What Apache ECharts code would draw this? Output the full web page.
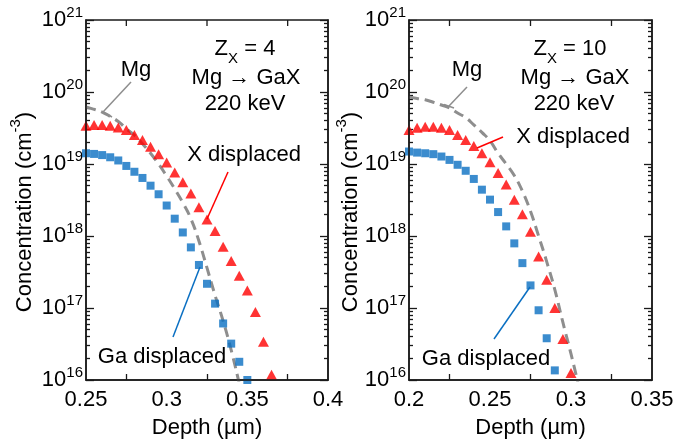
<!DOCTYPE html>
<html>
<head>
<meta charset="utf-8">
<script src="https://cdn.jsdelivr.net/npm/echarts@6/dist/echarts.min.js"></script>
<style>
  html, body { margin: 0; background: #fff; }
  #chart { width: 686px; height: 444px; }
</style>
</head>
<body>
<div id="chart"></div>
<script>
// depth grids (µm), one point every 5 nm
const depthL = [0.250, 0.255, 0.260, 0.265, 0.270, 0.275, 0.280, 0.285, 0.290, 0.295, 0.300, 0.305,
  0.310, 0.315, 0.320, 0.325, 0.330, 0.335, 0.340, 0.345, 0.350, 0.355, 0.360, 0.365];
const depthR = [0.200, 0.205, 0.210, 0.215, 0.220, 0.225, 0.230, 0.235, 0.240, 0.245, 0.250, 0.255,
  0.260, 0.265, 0.270, 0.275, 0.280, 0.285, 0.290, 0.295, 0.300, 0.305];

// Z_X = 4 panel (cm^-3)
const mgL = [6.2e19, 5.75e19, 5.25e19, 4.57e19, 3.89e19, 3.09e19, 2.51e19, 1.91e19, 1.41e19, 1.0e19,
  6.8e18, 4.5e18, 2.9e18, 1.74e18, 8.5e17, 3.6e17, 1.5e17, 6.6e16, 2.6e16, 8.9e15];
const xDispL = [3.39e19, 3.47e19, 3.47e19, 3.39e19, 3.22e19, 2.96e19, 2.52e19, 2.15e19, 1.74e19, 1.37e19,
  1.05e19, 7.6e18, 5.6e18, 3.9e18, 2.5e18, 1.7e18, 1.17e18, 7.1e17, 4.5e17, 2.8e17, 1.75e17, 8.8e16,
  3.4e16, 1.18e16];
const gaDispL = [1.41e19, 1.38e19, 1.33e19, 1.24e19, 1.12e19, 9.4e18, 7.8e18, 6.4e18, 5.0e18, 3.8e18,
  2.65e18, 1.74e18, 1.12e18, 6.95e17, 3.96e17, 2.17e17, 1.15e17, 6.1e16, 3.2e16, 1.79e16, 1.0e16];

// Z_X = 10 panel (cm^-3)
const mgR = [8.5e19, 8.1e19, 7.8e19, 7.2e19, 6.6e19, 6.0e19, 5.1e19, 4.4e19, 3.5e19, 2.75e19, 2.1e19,
  1.41e19, 1.0e19, 6.9e18, 4.2e18, 2.2e18, 1.0e18, 4.4e17, 1.8e17, 6.3e16, 2.3e16, 7.9e15];
const xDispR = [2.96e19, 3.18e19, 3.29e19, 3.29e19, 3.18e19, 2.96e19, 2.52e19, 2.15e19, 1.78e19, 1.41e19,
  1.06e19, 7.5e18, 5.2e18, 3.2e18, 2.0e18, 1.15e18, 5.2e17, 2.46e17, 1.0e17, 3.7e16, 1.25e16];
const gaDispR = [1.49e19, 1.44e19, 1.41e19, 1.37e19, 1.27e19, 1.14e19, 9.75e18, 8.05e18, 6.2e18, 4.4e18,
  3.2e18, 2.15e18, 1.36e18, 7.9e17, 4.2e17, 2.06e17, 9.3e16, 3.8e16, 1.36e16];

// the top decade sits a hair inside the extent so it is not filtered out
const decades = [1e16, 1e17, 1e18, 1e19, 1e20, 0.99999e21];
const xTicksL = [0.275, 0.325, 0.375];
const xTicksR = [0.225, 0.275, 0.325];

const FONT = 'Liberation Sans, Arial, sans-serif';
const RED = '#ff0000';
const BLUE = '#0a6fc2';
const GREY = '#8e8e8e';
const AXIS = '#1a1a1a';

let minors = [];
for (let n = 16; n < 21; n++) {
  for (let k = 2; k <= 9; k++) minors.push(k * Math.pow(10, n));
}

const pairs = (xs, ys) => ys.map((v, i) => [xs[i], v]);

const supRich = {
  b: { fontSize: 22, fontFamily: FONT, color: '#000', lineHeight: 30 },
  s: { fontSize: 15, fontFamily: FONT, color: '#000', verticalAlign: 'top' }
};

const makeY = (grid, pos, major) => ({
  type: 'log', logBase: 10, gridIndex: grid, position: pos, min: 1e16, max: 1e21,
  axisLine: { show: major, onZero: false, lineStyle: { color: AXIS, width: 1.5 } },
  axisTick: {
    inside: true, length: major ? 8 : 4, customValues: major ? decades : minors,
    lineStyle: { color: AXIS, width: 1.3 }
  },
  axisLabel: major && pos === 'left' ? {
    customValues: decades, margin: 3, showMaxLabel: true, showMinLabel: true,
    formatter: v => '{b|10}{s|' + Math.round(Math.log10(v)) + '}',
    rich: supRich
  } : { show: false },
  splitLine: { show: false }
});

const makeX = (grid, min, max, ticks) => ({
  type: 'value', gridIndex: grid, position: 'bottom', min: min, max: max, interval: 0.05,
  axisLine: { show: true, onZero: false, lineStyle: { color: AXIS, width: 1.5 } },
  axisTick: { inside: true, length: 6, customValues: ticks, lineStyle: { color: AXIS, width: 1.3 } },
  axisLabel: { fontSize: 22, fontFamily: FONT, color: '#000', margin: 9 },
  name: 'Depth (µm)', nameLocation: 'middle', nameGap: 37,
  nameTextStyle: { fontSize: 22, fontFamily: FONT, color: '#000' },
  splitLine: { show: false }
});

const mgSeries = (data, xi, yi) => ({
  type: 'line', xAxisIndex: xi, yAxisIndex: yi, data: data, smooth: true, symbol: 'none',
  lineStyle: { color: GREY, width: 3, type: [10, 6] }, z: 1, silent: true
});
const gaSeries = (data, xi, yi) => ({
  type: 'scatter', xAxisIndex: xi, yAxisIndex: yi, data: data, symbol: 'rect', symbolSize: 8,
  itemStyle: { color: BLUE }, z: 2
});
const xSeries = (data, xi, yi) => ({
  type: 'scatter', xAxisIndex: xi, yAxisIndex: yi, data: data, symbol: 'triangle', symbolSize: [11, 10],
  itemStyle: { color: RED }, z: 3
});

// annotation texts and leader lines (pixel layout)
const txtRich = {
  m: { fontSize: 22, fontFamily: FONT, color: '#000', lineHeight: 34 },
  sub: { fontSize: 15, fontFamily: FONT, color: '#000', verticalAlign: 'bottom' },
  sup: { fontSize: 15, fontFamily: FONT, color: '#000', verticalAlign: 'top' }
};
const text = (str, x, y, rot) => ({
  type: 'text', x: x, y: y, rotation: rot || 0, z: 10,
  style: { text: str, rich: txtRich, align: 'center', verticalAlign: 'middle', font: '22px ' + FONT }
});
const seg = (x1, y1, x2, y2, color) => ({
  type: 'line', z: 9, shape: { x1: x1, y1: y1, x2: x2, y2: y2 },
  style: { stroke: color, lineWidth: 1.5 }
});

const chart = echarts.init(document.getElementById('chart'), null, { renderer: 'canvas' });
chart.setOption({
  backgroundColor: '#fff',
  animation: false,
  grid: [
    { left: 86, top: 20, width: 242, height: 363 },
    { left: 409, top: 20, width: 243, height: 363 }
  ],
  xAxis: [
    makeX(0, 0.25, 0.4, xTicksL),
    makeX(1, 0.2, 0.35, xTicksR)
  ],
  yAxis: [
    makeY(0, 'left', true), makeY(0, 'left', false),
    makeY(0, 'right', true), makeY(0, 'right', false),
    makeY(1, 'left', true), makeY(1, 'left', false),
    makeY(1, 'right', true), makeY(1, 'right', false)
  ],
  series: [
    mgSeries(pairs(depthL, mgL), 0, 0),
    gaSeries(pairs(depthL, gaDispL), 0, 0),
    xSeries(pairs(depthL, xDispL), 0, 0),
    mgSeries(pairs(depthR, mgR), 1, 4),
    gaSeries(pairs(depthR, gaDispR), 1, 4),
    xSeries(pairs(depthR, xDispR), 1, 4)
  ]
});

// top frame edge with its inward ticks, placed through the x scales;
// an open rect outline (the form that did render) with ticks as a path
const frame = [];
[[0, 0, 0.25, 0.4, xTicksL], [1, 4, 0.2, 0.35, xTicksR]].forEach(([xi, yi, lo, hi, ticks], k) => {
  const a = chart.convertToPixel({ xAxisIndex: xi, yAxisIndex: yi }, [lo, 1e21]);
  const b = chart.convertToPixel({ xAxisIndex: xi, yAxisIndex: yi }, [hi, 1e16]);
  frame.push({
    type: 'rect', id: 'box' + k, z: 50,
    shape: { x: a[0], y: a[1], width: b[0] - a[0], height: b[1] - a[1] },
    style: { fill: 'none', stroke: AXIS, lineWidth: 1.5 }
  });
  ticks.forEach((t, j) => {
    const p = chart.convertToPixel({ xAxisIndex: xi, yAxisIndex: yi }, [t, 1e21]);
    frame.push({
      type: 'rect', id: 'tick' + k + '_' + j, z: 50,
      shape: { x: p[0] - 0.65, y: p[1], width: 1.3, height: 6 },
      style: { fill: AXIS, stroke: 'none' }
    });
  });
});

chart.setOption({
  graphic: [
    text('{m|Concentration (cm}{sup|-3}{m|)}', 25, 212, Math.PI / 2),
    text('{m|Concentration (cm}{sup|-3}{m|)}', 351, 212, Math.PI / 2),

    text('{m|Z}{sub|X}{m| = 4}', 245, 49),
    text('{m|Mg → GaX}', 246, 78),
    text('{m|220 keV}', 245, 104),
    text('{m|Mg}', 136, 70),
    seg(131, 82, 103, 112, GREY),
    seg(103, 112, 112, 117, GREY),
    text('{m|X displaced}', 244, 155),
    seg(228, 172, 207, 219, RED),
    text('{m|Ga displaced}', 162, 357),
    seg(173, 337, 200, 267, BLUE),

    text('{m|Z}{sub|X}{m| = 10}', 570, 49),
    text('{m|Mg → GaX}', 575, 78),
    text('{m|220 keV}', 574, 104),
    text('{m|Mg}', 467, 70),
    seg(467, 87, 449, 106, GREY),
    seg(444, 104.5, 454, 108, GREY),
    text('{m|X displaced}', 573, 137),
    seg(503, 137, 477, 148, RED),
    text('{m|Ga displaced}', 486, 359),
    seg(494, 339, 530, 287, BLUE)
  ].concat(frame)
});
</script>
</body>
</html>
